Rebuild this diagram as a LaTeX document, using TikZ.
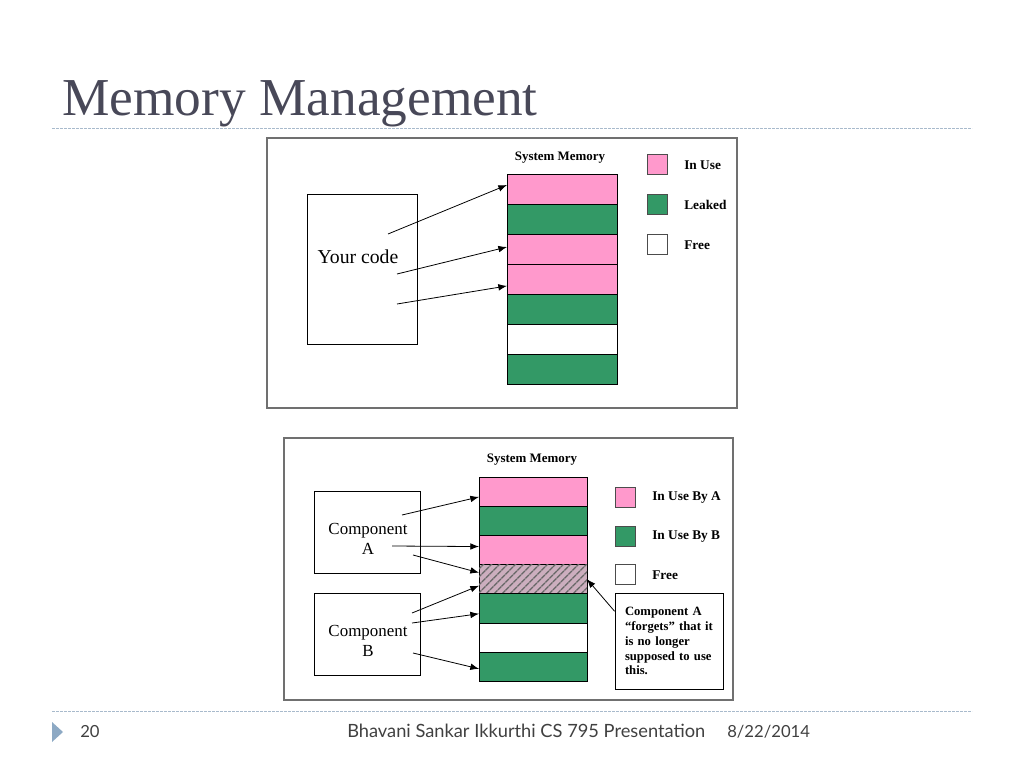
\documentclass[tikz,border=0pt]{standalone}
\usepackage{fontspec}
\setmainfont{Liberation Serif}
\newfontfamily\footfont{Lato}
\usetikzlibrary{positioning,arrows.meta,patterns.meta}
\definecolor{inuse}{HTML}{FF99CC}
\definecolor{leaked}{HTML}{339966}
\definecolor{framegray}{HTML}{707070}
\definecolor{titlegray}{HTML}{484858}
\definecolor{rulecol}{HTML}{A8BACC}
\definecolor{bullet}{HTML}{8DA9C4}
\definecolor{hatchbg}{HTML}{CCAEBE}
\tikzset{
  memtop/.style={draw, line width=0.7pt, minimum width=82.5pt, minimum height=22.5pt, inner sep=0pt, outer sep=0pt},
  membot/.style={draw, line width=0.7pt, minimum width=81pt, minimum height=21.9pt, inner sep=0pt, outer sep=0pt},
  legbox/.style={draw=black!70, line width=0.7pt, minimum size=15pt, inner sep=0pt},
  legtext/.style={anchor=west, font=\bfseries\fontsize{10}{12}\selectfont, inner sep=0pt},
  sysmem/.style={font=\bfseries\fontsize{9.7}{12}\selectfont, inner sep=0pt},
  codebox/.style={draw, line width=0.6pt, inner sep=0pt},
  comptext/.style={align=center, font=\fontsize{12.7}{15}\selectfont, inner sep=0pt},
  foot/.style={anchor=base west, inner sep=0pt, text=black!75},
  ptr/.style={-{Latex[length=6.5pt,width=5pt]}, line width=0.6pt},
}
\begin{document}
\begin{tikzpicture}[x=0.75pt,y=-0.75pt]
    \useasboundingbox (0,0) rectangle (1024,768);
    % title and rules
    \node[anchor=base west, inner sep=0pt, text=titlegray, font=\fontsize{40}{44}\selectfont] (title) at (62,115) {Memory Management};
    \draw[rulecol, dash pattern=on 2pt off 1pt, line width=0.6pt] (52,128) -- (972,128);
    \draw[rulecol, dash pattern=on 2pt off 1pt, line width=0.6pt] (52,711) -- (972,711);
    % upper figure
    \draw[framegray, line width=1.1pt] (267,138) rectangle (737,408);
    \node[codebox, minimum width=82.5pt, minimum height=112.5pt] (code) at (362,269) {};
    \node[font=\fontsize{14.8}{16}\selectfont] (codetext) at (358,257) {Your code};
    \node[memtop, fill=inuse] (m1) at (562,189) {};
    \node[memtop, fill=leaked] (m2) [below=0pt of m1] {};
    \node[memtop, fill=inuse] (m3) [below=0pt of m2] {};
    \node[memtop, fill=inuse] (m4) [below=0pt of m3] {};
    \node[memtop, fill=leaked] (m5) [below=0pt of m4] {};
    \node[memtop, fill=white] (m6) [below=0pt of m5] {};
    \node[memtop, fill=leaked] (m7) [below=0pt of m6] {};
    \node[sysmem] (sys1) at (560,158) {System Memory};
    \node[legbox, fill=inuse] (l1) at (657,164) {};
    \node[legbox, fill=leaked] (l2) at (657,204) {};
    \node[legbox, fill=white] (l3) at (657,244) {};
    \node[legtext] at (684,165) {In Use};
    \node[legtext] at (684,205) {Leaked};
    \node[legtext] at (684,245) {Free};
    \coordinate (c1) at (388,234);
    \coordinate (c2) at (397,274);
    \coordinate (c3) at (397,304);
    \draw[ptr] (c1) -- ([yshift=3pt]m1.west);
    \draw[ptr] (c2) -- ([yshift=1.5pt]m3.west);
    \draw[ptr] (c3) -- ([yshift=-5.2pt]m4.west);
    % lower figure
    \draw[framegray, line width=1.1pt] (284,438) rectangle (733,700);
    \node[codebox, minimum width=80pt, minimum height=62pt] (compa) at (367.5,532.5) {};
    \node[codebox, minimum width=80pt, minimum height=62pt] (compb) at (367.5,634.5) {};
    \node[comptext] (compatext) at (368,539) {Component\\A};
    \node[comptext] (compbtext) at (368,641) {Component\\B};
    \node[membot, fill=inuse] (n1) at (533,491.6) {};
    \node[membot, fill=leaked] (n2) [below=0pt of n1] {};
    \node[membot, fill=inuse] (n3) [below=0pt of n2] {};
    \node[membot, fill=hatchbg, postaction={pattern={Lines[angle=45,distance=4pt,line width=1.1pt]}, pattern color=black!60}] (n4) [below=0pt of n3] {};
    \node[membot, fill=leaked] (n5) [below=0pt of n4] {};
    \node[membot, fill=white] (n6) [below=0pt of n5] {};
    \node[membot, fill=leaked] (n7) [below=0pt of n6] {};
    \node[sysmem] (sys2) at (532,460) {System Memory};
    \node[legbox, fill=inuse] (k1) at (625,497.5) {};
    \node[legbox, fill=leaked] (k2) at (625,536) {};
    \node[legbox, fill=white] (k3) at (625,574) {};
    \node[legtext] at (652,498) {In Use By A};
    \node[legtext] at (652,537) {In Use By B};
    \node[legtext] at (652,575) {Free};
    \node[codebox, minimum width=81pt, minimum height=72pt, text width=66pt, align=left, inner xsep=7pt,
          font=\bfseries\fontsize{9.5}{11.2}\selectfont] (note) at (669,641)
          {Component A\\“forgets” that it\\is no longer\\supposed to use\\this.};
    \coordinate (a1) at (402,515);
    \coordinate (a2) at (392,546);
    \coordinate (a3) at (413,555);
    \coordinate (b1) at (412,613);
    \coordinate (b2) at (412,623);
    \coordinate (b3) at (413,653);
    \draw[ptr] (a1) -- ([yshift=-4pt]n1.west);
    \draw[ptr] (a2) -- ([yshift=2.6pt]n3.west);
    \draw[ptr] (a3) -- ([yshift=4.9pt]n4.west);
    \draw[ptr] (b1) -- ([yshift=-4.9pt]n4.west);
    \draw[ptr] (b2) -- ([yshift=-4pt]n5.west);
    \draw[ptr] (b3) -- ([yshift=-1.5pt]n7.west);
    \draw[ptr] ([yshift=-14pt]note.north west) -- (n4.east);
    % footer
    \fill[bullet] (52,722) -- (63,732) -- (52,742) -- cycle;
    \node[foot, font=\footfont\fontsize{12.5}{14}\selectfont] (pagenum) at (80,737) {20};
    \node[foot, font=\footfont\fontsize{13.7}{15}\selectfont] (author) at (347,737) {Bhavani Sankar Ikkurthi CS 795 Presentation};
    \node[foot, font=\footfont\fontsize{12.5}{14}\selectfont] (date) at (727,737) {8/22/2014};
\end{tikzpicture}
\end{document}
